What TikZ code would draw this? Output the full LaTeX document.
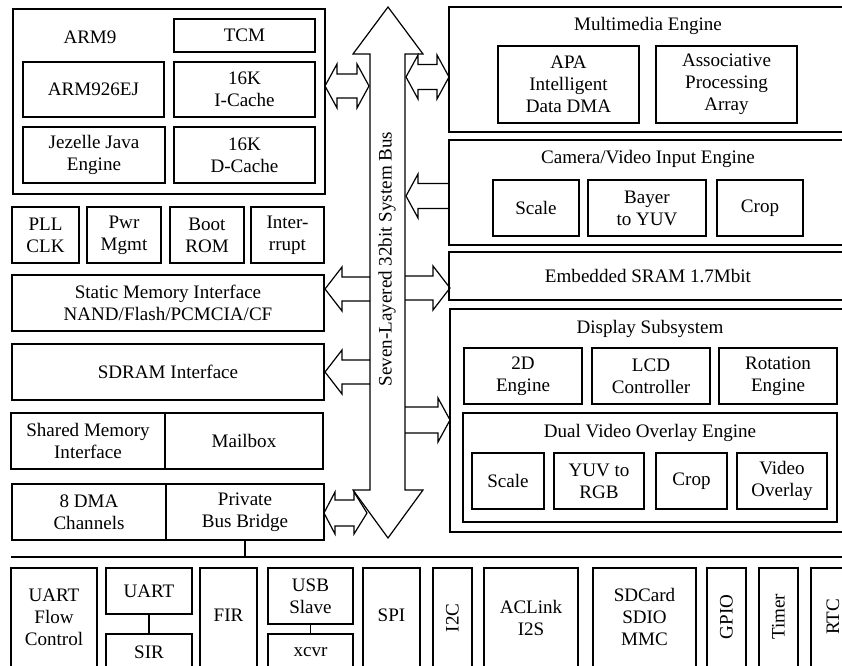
\documentclass[tikz,border=0pt]{standalone}
\usepackage{fontspec}
\setmainfont{Liberation Serif}
\newcommand\fs{\fontsize{14.3}{16.4}\selectfont}
% box: name, x1, y1, x2, y2, text
\newcommand{\bx}[7][]{\node[box,minimum width={(#5-#3)*0.75pt},minimum height={(#6-#4)*0.75pt},#1] (#2) at ({(#3+#5)/2},{(#4+#6)/2}) {#7};}
% single block arrow: tip x, head-base x, tail x, y, head half, shaft half
\newcommand{\sarr}[6]{\draw[barrow] (#3,#4-#6) -- (#2,#4-#6) -- (#2,#4-#5) -- (#1,#4) -- (#2,#4+#5) -- (#2,#4+#6) -- (#3,#4+#6);}
% double block arrow: left tip, left base, right base, right tip, y, head half, shaft half
\newcommand{\darr}[7]{\draw[barrow] (#1,#5) -- (#2,#5-#6) -- (#2,#5-#7) -- (#3,#5-#7) -- (#3,#5-#6) -- (#4,#5) -- (#3,#5+#6) -- (#3,#5+#7) -- (#2,#5+#7) -- (#2,#5+#6) -- cycle;}
\begin{document}
\begin{tikzpicture}[x=0.75pt,y=-0.75pt,
  box/.style={draw, line width=0.9pt, inner sep=0pt, align=center, font=\fs},
  txt/.style={inner sep=0pt, align=center, font=\fs},
  barrow/.style={draw, line width=0.9pt, line join=miter},
  conn/.style={draw, line width=0.9pt}]
\useasboundingbox (0,0) rectangle (842,666);
\clip (0,0) rectangle (842,666);

% ---- ARM9 block
\bx{arm9}{13}{9}{325}{194}{}
\node[txt] (arm9t) at (90,37) {ARM9};
\bx{tcm}{174}{19}{315}{52}{TCM}
\bx{arm926}{23}{62}{164}{117}{ARM926EJ}
\bx{icache}{174}{62}{315}{117}{16K\\I-Cache}
\bx{jaz}{23}{127}{165}{183}{Jezelle Java\\Engine}
\bx{dcache}{174}{127}{315}{183}{16K\\D-Cache}

% ---- small blocks
\bx{pll}{12}{207}{79}{263}{PLL\\CLK}
\bx{pwr}{87}{207}{161}{263}{Pwr\\Mgmt}
\bx{boot}{170}{207}{244}{263}{Boot\\ROM}
\bx{intr}{251}{207}{324}{263}{Inter-\\rrupt}
\bx{smi}{12}{275}{324}{331}{Static Memory Interface\\NAND/Flash/PCMCIA/CF}
\bx{sdram}{12}{344}{324}{400}{SDRAM Interface}
\bx{shm}{11}{413}{165}{469}{Shared Memory\\Interface}
\bx{mail}{165}{413}{323}{469}{Mailbox}
\bx{dma}{12}{484}{166}{540}{8 DMA\\Channels}
\bx{pbb}{166}{484}{324}{540}{Private\\Bus Bridge}

% ---- right side
\bx{mme}{449}{7}{847}{132}{}
\node[txt] (mmet) at (648,26) {Multimedia Engine};
\bx{apa}{498}{46}{639}{123}{APA\\Intelligent\\Data DMA}
\bx{asp}{656}{46}{797}{123}{Associative\\Processing\\Array}

\bx{cam}{449}{140}{847}{245}{}
\node[txt] (camt) at (648,159) {Camera/Video Input Engine};
\bx{cscale}{493}{180}{579}{236}{Scale}
\bx{bayer}{588}{180}{706}{236}{Bayer\\to YUV}
\bx{ccrop}{717}{180}{803}{236}{Crop}

\bx{sram}{449}{252}{847}{300}{Embedded SRAM 1.7Mbit}

\bx{disp}{450}{309}{847}{532}{}
\node[txt] (dispt) at (650,329) {Display Subsystem};
\bx{twod}{464}{348}{582}{404}{2D\\Engine}
\bx{lcd}{592}{348}{710}{404}{LCD\\Controller}
\bx{rot}{719}{348}{837}{404}{Rotation\\Engine}
\bx{dvo}{463}{413}{837}{522}{}
\node[txt] (dvot) at (650,433) {Dual Video Overlay Engine};
\bx{dscale}{472}{453}{544}{509}{Scale}
\bx{yuv}{554}{453}{644}{509}{YUV to\\RGB}
\bx{dcrop}{656}{453}{727}{509}{Crop}
\bx{vov}{737}{453}{827}{509}{Video\\Overlay}

% ---- system bus
\draw[barrow] (388,7) -- (423,54) -- (405,54) -- (405,490) -- (423,490) -- (388,538) -- (353,490) -- (370,490) -- (370,54) -- (353,54) -- cycle;
\node[txt, rotate=90] (buslbl) at (387,259) {Seven-Layered 32bit System Bus};

% ---- block arrows
\darr{325}{337}{357}{369}{86}{22}{12}
\darr{406}{418}{437}{449}{77}{22}{12.5}
\sarr{406}{418}{449}{196}{22}{12.5}
\sarr{450}{433}{405}{288}{22}{12}
\sarr{325}{342}{370}{289}{22}{12}
\sarr{325}{342}{370}{372}{22}{12}
\sarr{450}{438}{405}{420}{22}{13}
\darr{324}{335}{354}{367}{513}{21}{13}

% ---- peripheral bus
\coordinate (pl) at (11,557);
\coordinate (pr) at (850,557);
\draw[conn] (pl) -- (pr);
\draw[conn] (pbb.south) -- (pbb.south |- pl);

% ---- peripherals
\bx{ufc}{11}{568}{97}{690}{}
\node[txt] (ufct) at (54,617) {UART\\Flow\\Control};
\bx{uart}{106}{568}{192}{614}{UART}
\bx{sir}{106}{634}{192}{700}{}
\node[txt] (sirt) at (149,652) {SIR};
\draw[conn] (uart.south) -- (sir.north);
\bx{fir}{200}{568}{257}{690}{}
\node[txt] (firt) at (228.5,615) {FIR};
\bx{usb}{268}{568}{353}{624}{USB\\Slave}
\bx{xcvr}{268}{634}{353}{700}{}
\node[txt] (xcvrt) at (310.5,652) {xcvr};
\draw[conn] (usb.south) -- (xcvr.north);
\bx{spi}{363}{568}{420}{690}{}
\node[txt] (spit) at (391.5,615) {SPI};
\bx{i2c}{433}{568}{472}{690}{}
\node[txt, rotate=90] (i2ct) at (452.5,618) {I2C};
\bx{acl}{484}{568}{578}{690}{}
\node[txt] (aclt) at (531,618) {ACLink\\I2S};
\bx{sdc}{593}{568}{696}{690}{}
\node[txt] (sdct) at (644.5,617) {SDCard\\SDIO\\MMC};
\bx{gpio}{707}{568}{746}{690}{}
\node[txt, rotate=90] (gpiot) at (726.5,617) {GPIO};
\bx{timer}{759}{568}{798}{690}{}
\node[txt, rotate=90] (timert) at (778.5,617) {Timer};
\bx{rtc}{811}{568}{860}{690}{}
\node[txt, rotate=90] (rtct) at (833,617) {RTC};
\end{tikzpicture}
\end{document}
